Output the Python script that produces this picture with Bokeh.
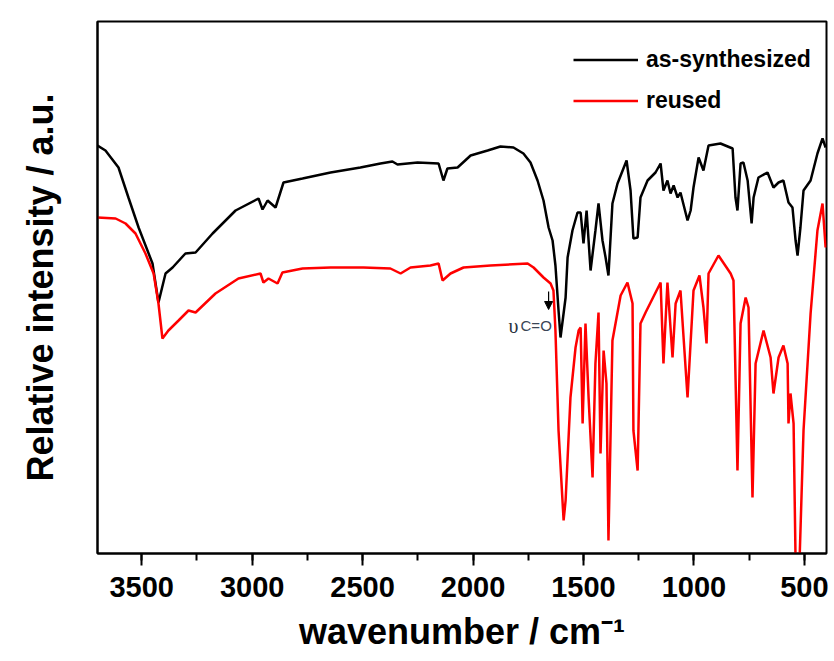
from bokeh.plotting import figure
from bokeh.models import (Range1d, SingleIntervalTicker, FixedTicker, Legend, LegendItem,
                          Label, Arrow, NormalHead)
from bokeh.embed import file_html
from bokeh.resources import INLINE

# ---- data (intensity in arbitrary units) ----
wn_as = [3700, 3664, 3605, 3560, 3514, 3451, 3424, 3392, 3360, 3302, 3256, 3179, 3075, 2971, 2953,
         2930, 2894, 2858, 2772, 2645, 2510, 2419, 2365, 2342, 2251, 2156, 2134, 2116, 2070, 2011,
         1934, 1876, 1817, 1772, 1740, 1708, 1681, 1658, 1640, 1627, 1613, 1604, 1581, 1572, 1550,
         1527, 1513, 1500, 1486, 1468, 1446, 1432, 1414, 1400, 1387, 1369, 1346, 1305, 1287, 1274,
         1255, 1242, 1210, 1174, 1151, 1138, 1120, 1106, 1092, 1074, 1061, 1029, 1015, 1002, 979,
         957, 934, 880, 825, 812, 803, 789, 776, 757, 739, 730, 708, 667, 640, 617,
         595, 572, 554, 540, 531, 518, 504, 472, 441, 418, 404]
int_as = [408, 403, 386, 356, 326, 290, 251, 280, 286, 300, 301, 320, 343, 355, 344,
          353, 346, 371, 375, 381, 386, 390, 392, 389, 391, 390, 373, 385, 386, 398,
          403, 407, 406, 400, 391, 373, 353, 326, 313, 288, 243, 216, 256, 296, 323,
          341, 341, 310, 343, 283, 323, 350, 313, 296, 278, 350, 370, 393, 363, 315,
          316, 356, 373, 381, 390, 363, 373, 360, 368, 356, 361, 333, 343, 366, 396,
          383, 408, 410, 405, 356, 343, 390, 391, 373, 330, 356, 376, 381, 366, 371,
          373, 351, 346, 313, 298, 326, 363, 373, 400, 415, 406]

wn_re = [3700, 3618, 3573, 3528, 3483, 3446, 3424, 3406, 3379, 3333, 3288, 3256, 3166, 3062, 2962,
         2949, 2926, 2885, 2863, 2772, 2645, 2496, 2374, 2328, 2283, 2193, 2156, 2138, 2102, 2043,
         1921, 1753, 1726, 1681, 1649, 1636, 1627, 1613, 1590, 1581, 1559, 1536, 1522, 1513, 1504,
         1491, 1477, 1459, 1446, 1432, 1423, 1409, 1396, 1387, 1369, 1332, 1301, 1278, 1274, 1255,
         1242, 1219, 1151, 1138, 1120, 1097, 1083, 1061, 1047, 1029, 1002, 975, 957, 943, 934,
         889, 834, 821, 803, 789, 766, 753, 735, 721, 685, 653, 640, 617, 595, 576,
         572, 563, 549, 540, 522, 504, 472, 441, 418, 404]
int_re = [336, 335, 330, 320, 300, 280, 250, 215, 223, 233, 243, 241, 260, 275, 280,
          271, 275, 270, 281, 285, 286, 286, 285, 280, 286, 288, 290, 273, 280, 286,
          288, 290, 286, 276, 270, 263, 223, 123, 33, 53, 156, 206, 223, 226, 130,
          230, 156, 76, 190, 241, 100, 203, 170, 13, 213, 258, 271, 250, 123, 83,
          230, 241, 271, 190, 271, 196, 250, 263, 216, 156, 263, 278, 246, 210, 280,
          298, 280, 273, 83, 230, 256, 246, 56, 190, 223, 196, 160, 196, 208, 190,
          130, 160, 130, -7, -7, 123, 240, 323, 350, 306]

series_names = ["as-synthesized", "reused"]
series_colors = ["#000000", "#ff0000"]

x_major_interval = 500
x_limits = (3700, 400)
y_limits = (0, 532)
x_title = "wavenumber / cm\u207b\u00b9"
y_title = "Relative intensity / a.u."

FONT = "Liberation Sans"

p = figure(width=834, height=661, output_backend="svg", toolbar_location=None,
           x_range=Range1d(*x_limits), y_range=Range1d(*y_limits),
           min_border_left=97, min_border_right=8, min_border_top=21, min_border_bottom=108,
           background_fill_color="white", border_fill_color="white")

p.xgrid.visible = False
p.ygrid.visible = False
p.outline_line_color = "black"
p.outline_line_width = 2

# x axis
xa = p.xaxis[0]
xa.ticker = SingleIntervalTicker(interval=x_major_interval, num_minor_ticks=2)
xa.axis_line_width = 2
xa.major_tick_line_width = 2
xa.minor_tick_line_width = 2
xa.major_tick_in = 0
xa.major_tick_out = 12
xa.minor_tick_in = 0
xa.minor_tick_out = 7
xa.major_label_text_font = FONT
xa.major_label_text_font_style = "bold"
xa.major_label_text_font_size = "29px"
xa.major_label_text_color = "black"
xa.major_label_standoff = 11
xa.axis_label = x_title
xa.axis_label_text_font = FONT
xa.axis_label_text_font_style = "bold"
xa.axis_label_text_font_size = "36px"
xa.axis_label_text_color = "black"
xa.axis_label_standoff = 11

# y axis (no ticks)
ya = p.yaxis[0]
ya.ticker = FixedTicker(ticks=[])
ya.axis_line_width = 2
ya.major_tick_line_color = None
ya.minor_tick_line_color = None
ya.major_label_text_font_size = "0px"
ya.axis_label = y_title
ya.axis_label_text_font = FONT
ya.axis_label_text_font_style = "bold"
ya.axis_label_text_font_size = "36px"
ya.axis_label_text_color = "black"
ya.axis_label_standoff = 37

r1 = p.line(wn_as, int_as, line_color=series_colors[0], line_width=2.5)
r2 = p.line(wn_re, int_re, line_color=series_colors[1], line_width=2.5)

legend = Legend(items=[LegendItem(label=series_names[0], renderers=[r1]),
                       LegendItem(label=series_names[1], renderers=[r2])],
                location=(476, 432), orientation="vertical",
                glyph_width=65, glyph_height=41, label_height=41, label_standoff=8,
                spacing=0, padding=0, margin=0,
                label_text_font=FONT, label_text_font_style="bold",
                label_text_font_size="23px", label_text_color="black",
                border_line_alpha=0, background_fill_alpha=0)
p.add_layout(legend)

# annotation: C=O stretching
p.add_layout(Arrow(x_start=1658, y_start=262, x_end=1658, y_end=244, line_width=1.2,
                   line_color="black",
                   end=NormalHead(size=8, fill_color="black", line_color="black")))
p.add_layout(Label(x=1839, y=228, text="\u03c5", text_font="Liberation Serif",
                   text_font_size="20px", text_color="#2a3340", text_baseline="alphabetic"))
p.add_layout(Label(x=1785, y=228, text="C=O", text_font=FONT,
                   text_font_size="15px", text_color="#3a4656", text_baseline="alphabetic"))

open("out.html", "w").write(file_html(p, INLINE))
